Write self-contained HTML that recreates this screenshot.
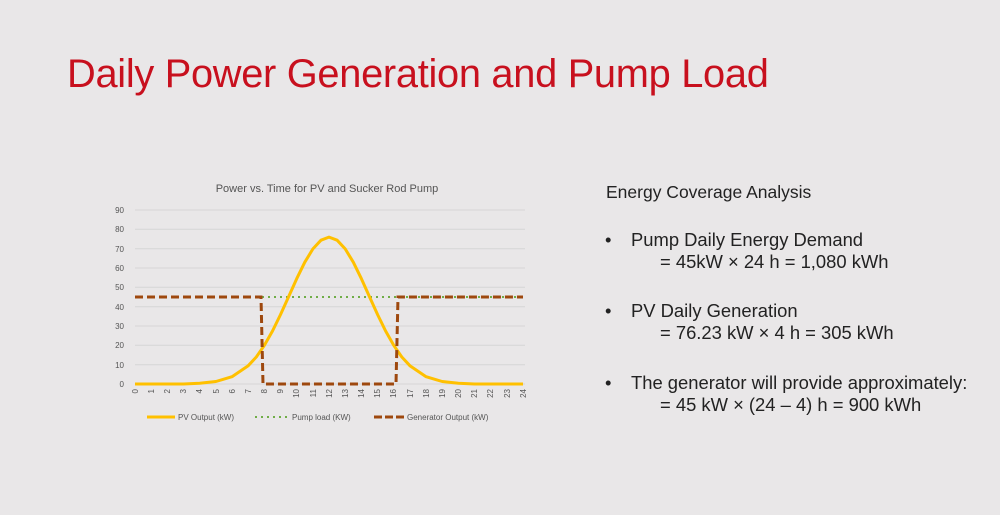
<!DOCTYPE html>
<html><head><style>
body{margin:0;width:1000px;height:515px;background:#e9e7e8;overflow:hidden;font-family:"Liberation Sans",sans-serif;position:relative}
h1{position:absolute;left:67px;top:52px;margin:0;font-weight:normal;font-size:39.8px;color:#c8101e;letter-spacing:-0.3px}
.r{position:absolute;left:631px;color:#222;font-size:18.4px;line-height:22px}
.b{position:absolute;left:-26px;top:0}
</style></head><body>
<h1>Daily Power Generation and Pump Load</h1>
<div class="r" style="left:606px;top:181px;font-size:17.5px">Energy Coverage Analysis</div>
<div class="r" style="top:229px"><span class="b">•</span>Pump Daily Energy Demand<br><span style="padding-left:29px">= 45kW × 24 h = 1,080 kWh</span></div>
<div class="r" style="top:300px"><span class="b">•</span>PV Daily Generation<br><span style="padding-left:29px">= 76.23 kW × 4 h = 305 kWh</span></div>
<div class="r" style="top:372px"><span class="b">•</span>The generator will provide approximately:<br><span style="padding-left:29px">= 45 kW × (24 – 4) h = 900 kWh</span></div>
<svg width="1000" height="515" style="position:absolute;left:0;top:0" font-family="Liberation Sans, sans-serif">
<text x="327" y="192" font-size="11" fill="#555" text-anchor="middle">Power vs. Time for PV and Sucker Rod Pump</text>
<g stroke="#d6d6d6" stroke-width="1">
<line x1="135" x2="525" y1="210" y2="210"/><line x1="135" x2="525" y1="229.3" y2="229.3"/><line x1="135" x2="525" y1="248.7" y2="248.7"/><line x1="135" x2="525" y1="268" y2="268"/><line x1="135" x2="525" y1="287.3" y2="287.3"/><line x1="135" x2="525" y1="306.7" y2="306.7"/><line x1="135" x2="525" y1="326" y2="326"/><line x1="135" x2="525" y1="345.3" y2="345.3"/><line x1="135" x2="525" y1="364.7" y2="364.7"/><line x1="135" x2="525" y1="384" y2="384"/>
</g>
<g font-size="8" fill="#555" text-anchor="end">
<text x="124" y="213">90</text><text x="124" y="232">80</text><text x="124" y="252">70</text><text x="124" y="271">60</text><text x="124" y="290">50</text><text x="124" y="310">40</text><text x="124" y="329">30</text><text x="124" y="348">20</text><text x="124" y="368">10</text><text x="124" y="387">0</text>
</g>
<g font-size="8" fill="#555" text-anchor="end">
<text transform="translate(138,389) rotate(-90)">0</text><text transform="translate(154,389) rotate(-90)">1</text><text transform="translate(170,389) rotate(-90)">2</text><text transform="translate(186,389) rotate(-90)">3</text><text transform="translate(202,389) rotate(-90)">4</text><text transform="translate(219,389) rotate(-90)">5</text><text transform="translate(235,389) rotate(-90)">6</text><text transform="translate(251,389) rotate(-90)">7</text><text transform="translate(267,389) rotate(-90)">8</text><text transform="translate(283,389) rotate(-90)">9</text><text transform="translate(299,389) rotate(-90)">10</text><text transform="translate(316,389) rotate(-90)">11</text><text transform="translate(332,389) rotate(-90)">12</text><text transform="translate(348,389) rotate(-90)">13</text><text transform="translate(364,389) rotate(-90)">14</text><text transform="translate(380,389) rotate(-90)">15</text><text transform="translate(396,389) rotate(-90)">16</text><text transform="translate(413,389) rotate(-90)">17</text><text transform="translate(429,389) rotate(-90)">18</text><text transform="translate(445,389) rotate(-90)">19</text><text transform="translate(461,389) rotate(-90)">20</text><text transform="translate(477,389) rotate(-90)">21</text><text transform="translate(493,389) rotate(-90)">22</text><text transform="translate(510,389) rotate(-90)">23</text><text transform="translate(526,389) rotate(-90)">24</text>
</g>
<polyline fill="none" stroke="#70ad47" stroke-width="2" stroke-dasharray="2,4" points="262,297 523,297"/>
<polyline fill="none" stroke="#ffc000" stroke-width="3" stroke-linejoin="round" points="135,384 183.5,384 199.7,383.3 215.9,381.5 232,376.7 248.2,365.7 256.3,357 264.4,345.3 272.5,331 280.5,314.6 288.6,296.7 296.7,278.7 304.8,262.2 312.9,248.9 321,240.2 329,237.1 337.1,240.2 345.2,248.9 353.3,262.2 361.4,278.7 369.5,296.7 377.6,314.6 385.6,331 393.7,345.3 401.8,357 409.9,365.7 426.1,376.7 442.2,381.5 458.4,383.3 474.6,384 523,384"/>
<polyline fill="none" stroke="#9e480e" stroke-width="3" stroke-dasharray="8,4" points="135,297 261,297 263,384 396,384 398,297 523,297"/>
<g font-size="8" fill="#555">
<line x1="147" x2="175" y1="417" y2="417" stroke="#ffc000" stroke-width="3"/><text x="178" y="420">PV Output (kW)</text>
<line x1="255" x2="287" y1="417" y2="417" stroke="#70ad47" stroke-width="2" stroke-dasharray="2,4"/><text x="292" y="420">Pump load (KW)</text>
<line x1="374" x2="404" y1="417" y2="417" stroke="#9e480e" stroke-width="3" stroke-dasharray="8,3"/><text x="407" y="420">Generator Output (kW)</text>
</g>
</svg>
</body></html>
